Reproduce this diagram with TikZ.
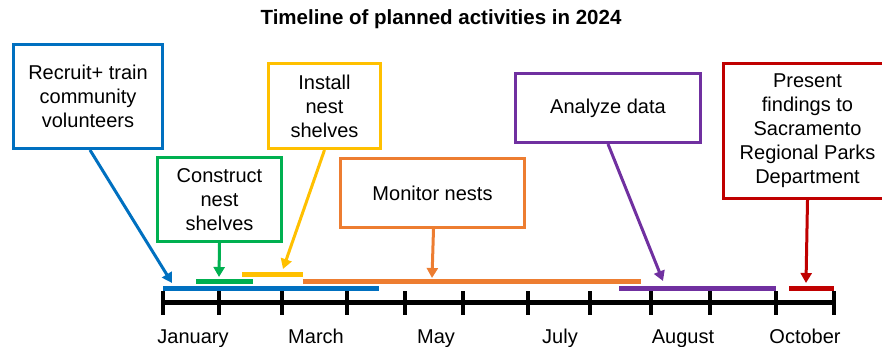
\documentclass[tikz,border=0pt]{standalone}
\usepackage{fontspec}
\setmainfont{Liberation Sans}
\usetikzlibrary{arrows.meta}
\definecolor{cblue}{HTML}{0070C0}
\definecolor{cgreen}{HTML}{00B050}
\definecolor{cyellow}{HTML}{FFC000}
\definecolor{corange}{HTML}{ED7D31}
\definecolor{cpurple}{HTML}{7030A0}
\definecolor{cred}{HTML}{C00000}
\begin{document}
\begin{tikzpicture}[x=1pt,y=-1pt,
  txt/.style={font=\fontsize{20}{24}\selectfont},
  box/.style={draw=#1, line width=3pt, fill=white, txt, align=center, inner sep=0pt, anchor=north west},
  conn/.style={draw=#1, line width=3pt, -{Triangle[length=10pt,width=11pt]}, shorten >=0pt},
  bar/.style={draw=#1, line width=5pt},
  tick/.style={line width=4pt, black},
  month/.style={txt, anchor=base, inner sep=0pt}]
\useasboundingbox (0,0) rectangle (882,347);
\clip (0,0) rectangle (882,347);
% title
\node[font=\fontsize{20.5}{24}\selectfont\bfseries] (title) at (441,19) {Timeline of planned activities in 2024};
% axis
\draw[line width=5pt] (163,302) -- (834,302);
\foreach \x in {163,219,282,347,405,463,528,590,651,710,776,834}
  \draw[tick] (\x,291) -- (\x,315);
% month labels
\node[month] (jan) at (193,343) {January};
\node[month] (mar) at (316,343) {March};
\node[month] (may) at (436,343) {May};
\node[month] (jul) at (560,343) {July};
\node[month] (aug) at (683,343) {August};
\node[month] (oct) at (805,343) {October};
% bars
\draw[bar=cblue] (163,288) -- (379,288);
\draw[bar=cgreen] (196,281) -- (253,281);
\draw[bar=cyellow] (242,274) -- (303,274);
\draw[bar=corange] (303,281) -- (641,281);
\draw[bar=cpurple] (619,288) -- (776,288);
\draw[bar=cred] (789,288) -- (834,288);
% arrow tips
\coordinate (tblue) at (172,283);
\coordinate (tgreen) at (219,277);
\coordinate (tyellow) at (283,269);
\coordinate (torange) at (432,278);
\coordinate (tpurple) at (663,281);
\coordinate (tred) at (806,283);
% boxes
\node[box=cblue, minimum width=149pt, minimum height=104pt] (recruit) at (12,43) {Recruit+ train\\community\\volunteers};
\node[box=cyellow, minimum width=112pt, minimum height=85pt] (install) at (267,62) {Install\\nest\\shelves};
\node[box=cgreen, minimum width=124pt, minimum height=84pt] (construct) at (156,156) {Construct\\nest\\shelves};
\node[box=corange, minimum width=184pt, minimum height=69pt] (monitor) at (339,157) {Monitor nests};
\node[box=cpurple, minimum width=185pt, minimum height=69pt] (analyze) at (514,72) {Analyze data};
\node[box=cred, minimum width=168pt, minimum height=135pt] (present) at (722,62) {Present\\findings to\\Sacramento\\Regional Parks\\Department};
% connectors
\draw[conn=cblue] ([xshift=2pt]recruit.south) -- (tblue);
\draw[conn=cgreen] (construct.south) -- (tgreen);
\draw[conn=cyellow] (install.south) -- (tyellow);
\draw[conn=corange] ([xshift=1pt]monitor.south) -- (torange);
\draw[conn=cpurple] (analyze.south) -- (tpurple);
\draw[conn=cred] (present.south) -- (tred);
\end{tikzpicture}
\end{document}
